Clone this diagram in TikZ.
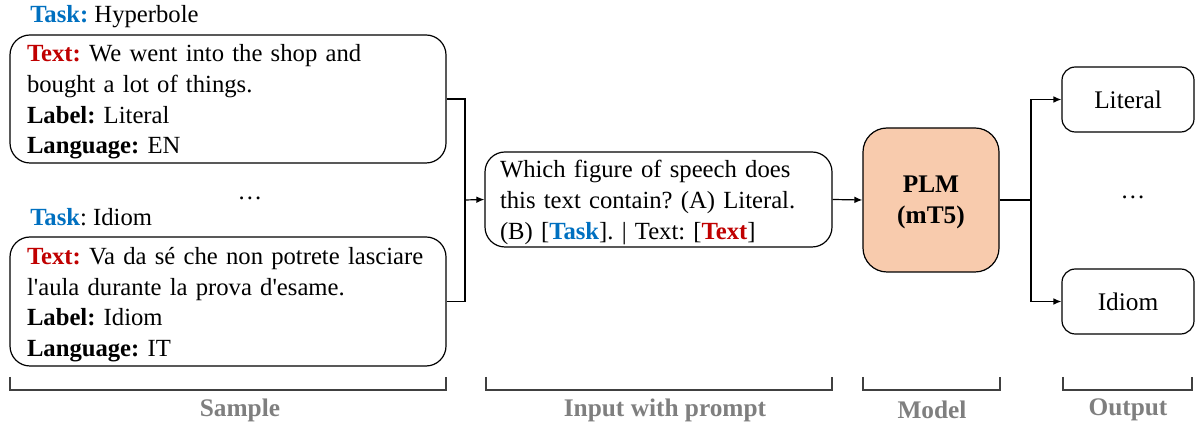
\documentclass[tikz,border=0pt]{standalone}
\usepackage{fontspec}
\setmainfont{Liberation Serif}[Ligatures=TeXOff]
\usetikzlibrary{arrows.meta}
\definecolor{taskblue}{HTML}{0070C0}
\definecolor{textred}{HTML}{C00000}
\definecolor{plmfill}{HTML}{F8CBAD}
\definecolor{labgrey}{HTML}{7F7F7F}
\frenchspacing
\newcommand{\toppad}{\rule{0pt}{17.5pt}}
\tikzset{
  box/.style={draw=black, line width=0.9pt, rounded corners=15pt, align=left, inner ysep=0pt, font=\fontsize{18.5}{23}\selectfont},
  plmbox/.style={draw=black, line width=0.9pt, rounded corners=18pt, fill=plmfill, align=center, font=\fontsize{19}{23}\selectfont\bfseries},
  outbox/.style={draw=black, line width=0.9pt, rounded corners=10pt, align=center, minimum width=99pt, minimum height=48.75pt, font=\fontsize{19}{23}\selectfont},
  plain/.style={font=\fontsize{18.5}{23}\selectfont, inner sep=0pt},
  conn/.style={line width=0.9pt},
  arr/.style={line width=0.9pt, -{Latex[length=6pt,width=5pt]}},
  brk/.style={line width=0.9pt, draw=black!75},
  grouplab/.style={font=\fontsize{19}{22}\selectfont\bfseries, text=labgrey, inner sep=0pt}
}
\begin{document}
\begin{tikzpicture}[x=0.75pt,y=-0.75pt]
\useasboundingbox (0,0) rectangle (1196,423);

\node[plain, anchor=west] (t1) at (30,17) {\textbf{\color{taskblue}Task:} Hyperbole};
\node[box, minimum width=327pt, minimum height=96pt, text width=301.5pt, inner xsep=12.75pt] (b1) at (228,99)
  {\toppad\textbf{\color{textred}Text:} We went into the shop and\\bought a lot of things.\\\textbf{Label:} Literal\\\textbf{Language:} EN};
\node[plain] (d1) at (250,198) {\ldots};
\node[plain, anchor=west] (t2) at (30,217) {\textbf{\color{taskblue}Task}: Idiom};
\node[box, minimum width=327pt, minimum height=96.75pt, text width=301.5pt, inner xsep=12.75pt] (b2) at (228,301.5)
  {\toppad\textbf{\color{textred}Text:} Va da sé che non potrete lasciare\\l'aula durante la prova d'esame.\\\textbf{Label:} Idiom\\\textbf{Language:} IT};

\node[box, minimum width=260.25pt, minimum height=71.25pt, text width=237.75pt, inner xsep=11.25pt] (b3) at (658.5,199.5)
  {\toppad Which figure of speech does\\this text contain? (A) Literal.\\(B) [\textbf{\color{taskblue}Task}]. | Text: [\textbf{\color{textred}Text}]};

\node[plmbox, minimum width=102pt, minimum height=108pt] (plm) at (931,200) {\rule{0pt}{16pt}PLM\\(mT5)};

\node[outbox] (o1) at (1128,99.5) {Literal};
\node[outbox] (o2) at (1128,301.5) {Idiom};
\node[plain] (d2) at (1133,197) {\ldots};

\coordinate (j1) at (465,200);
\coordinate (j2) at (1031,200);
\draw[conn] (b1.east) -| (j1);
\draw[conn] (b2.east) -| (j1);
\draw[arr] (j1) -- (b3.west);
\draw[arr] (b3.east) -- (plm.west);
\draw[conn] (plm.east) -- (j2);
\draw[arr] (j2) |- (o1.west);
\draw[arr] (j2) |- (o2.west);

\draw[brk] (10,377) -- (10,390) -- (446,390) -- (446,377);
\draw[brk] (486,377) -- (486,390) -- (832,390) -- (832,377);
\draw[brk] (863,377) -- (863,390) -- (1000,390) -- (1000,377);
\draw[brk] (1063,377) -- (1063,390) -- (1192,390) -- (1192,377);
\node[grouplab] (l1) at (240,410) {Sample};
\node[grouplab] (l2) at (665,410) {Input with prompt};
\node[grouplab] (l3) at (932,410) {Model};
\node[grouplab] (l4) at (1128,410) {Output};
\end{tikzpicture}
\end{document}
